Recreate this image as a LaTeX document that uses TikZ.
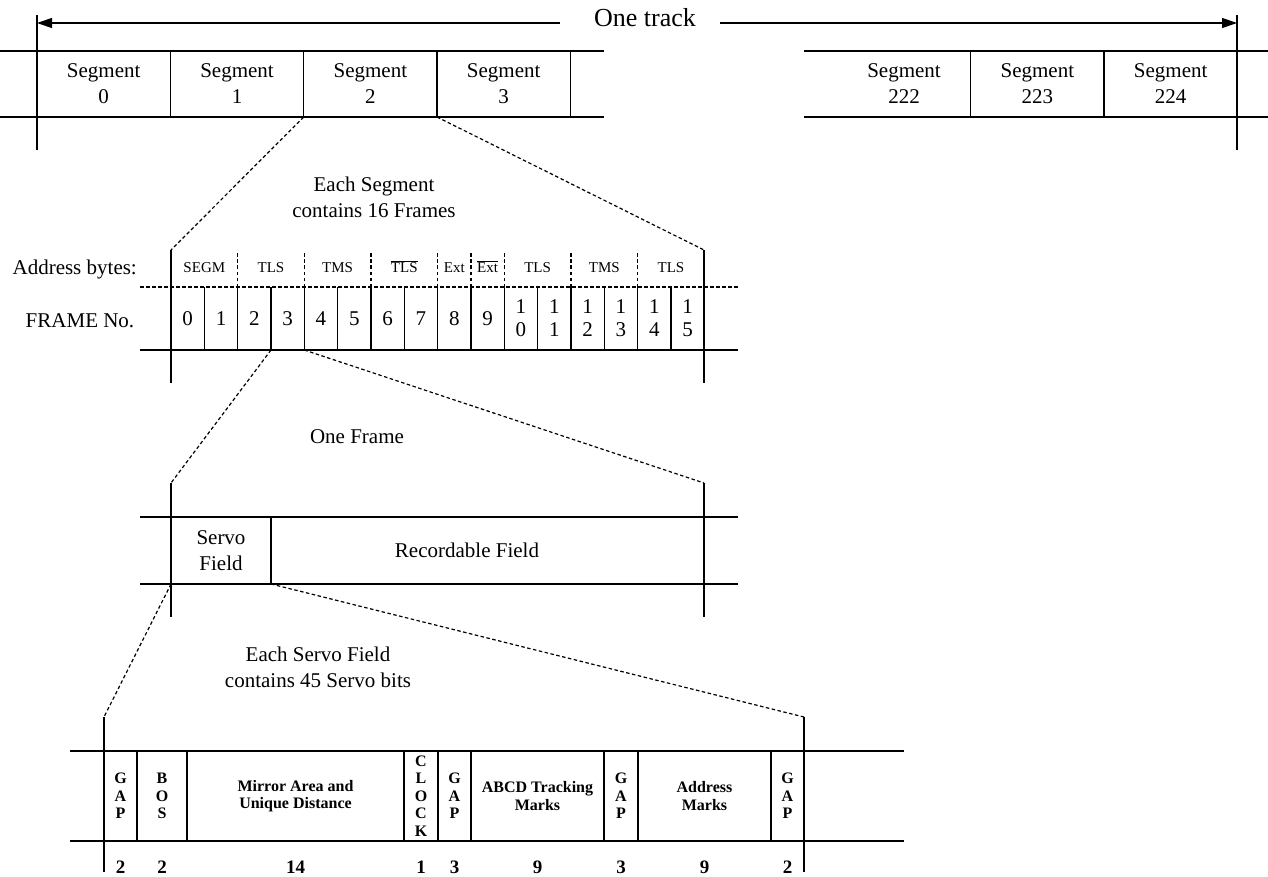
\documentclass[tikz,border=0pt]{standalone}
\usepackage{fontspec}
\setmainfont{Liberation Serif}
\usetikzlibrary{arrows.meta,positioning}
\newcommand{\bigtxt}{\fontsize{21}{26}\selectfont}
\newcommand{\smalltxt}{\fontsize{16}{17.5}\selectfont}
\tikzset{
  segcell/.style={
    minimum width=133.33pt,
    minimum height=66pt,
    inner sep=0pt,
    outer sep=0pt,
    align=center,
    font=\bigtxt
  },
  framecell/.style={
    minimum width=33.33pt,
    minimum height=63pt,
    inner sep=0pt,
    outer sep=0pt,
    align=center,
    font=\fontsize{21}{23}\selectfont
  },
  bytelabel/.style={
    inner sep=0pt,
    font=\fontsize{15}{17}\selectfont
  },
  fieldcell/.style={
    minimum height=67pt,
    inner sep=0pt,
    outer sep=0pt,
    align=center,
    font=\bigtxt
  },
  servocell/.style={
    minimum height=90pt,
    inner sep=0pt,
    outer sep=0pt,
    align=center,
    font=\smalltxt\bfseries
  },
  bitcount/.style={
    inner sep=0pt,
    font=\fontsize{19}{20}\selectfont\bfseries
  },
  caption/.style={
    align=center,
    inner sep=0pt,
    font=\bigtxt
  },
  zoomline/.style={
    dash pattern=on 3.5pt off 2.5pt,
    line width=1.2pt
  },
  trackarrow/.style={
    -{Triangle[length=15pt,width=10pt]},
    line width=1.2pt
  }
}

\begin{document}
\begin{tikzpicture}[x=1pt, y=-1pt, line width=1.2pt, node distance=0pt]
  \useasboundingbox (0,0) rectangle (1268,877);

  % one track
  \node[inner sep=0pt, font=\fontsize{26}{30}\selectfont] (track) at (645,18) {One track};
  \coordinate (trackL) at (37,23);
  \coordinate (trackR) at (1237,23);
  \coordinate (lineL) at (560,23);
  \coordinate (lineR) at (720,23);
  \draw[trackarrow] (lineL) -- (trackL);
  \draw[trackarrow] (lineR) -- (trackR);
  \draw (37,15) -- (37,150);
  \draw (1237,15) -- (1237,150);

  \node[segcell] (s0) at (103.67,84) {Segment\\0};
  \node[segcell, right=of s0] (s1) {Segment\\1};
  \node[segcell, right=of s1] (s2) {Segment\\2};
  \node[segcell, right=of s2] (s3) {Segment\\3};
  \node[segcell] (s222) at (904,84) {Segment\\222};
  \node[segcell, right=of s222] (s223) {Segment\\223};
  \node[segcell, right=of s223] (s224) {Segment\\224};
  \draw (0,51) -- (604,51);
  \draw (0,117) -- (604,117);
  \draw (804,51) -- (1268,51);
  \draw (804,117) -- (1268,117);
  \draw (s0.north east) -- (s0.south east);
  \draw (s1.north east) -- (s1.south east);
  \draw (s2.north east) -- (s2.south east);
  \draw (s3.north east) -- (s3.south east);
  \draw (s222.north east) -- (s222.south east);
  \draw (s223.north east) -- (s223.south east);

  % one segment
  \coordinate (segL) at (171,250);
  \coordinate (segR) at (704,250);
  \draw[zoomline] (s2.south west) -- (segL);
  \draw[zoomline] (s2.south east) -- (segR);
  \node[caption] (segtext) at (374,197) {Each Segment\\contains 16 Frames};

  \node[anchor=base west, inner sep=0pt, font=\bigtxt] (addr) at (12,275) {Address bytes:};
  \node[anchor=base, inner sep=0pt, font=\bigtxt] (frameno) at (80,327) {FRAME No.};

  \node[framecell] (f0) at (187.67,318.5) {0};
  \node[framecell, right=of f0] (f1) {1};
  \node[framecell, right=of f1] (f2) {2};
  \node[framecell, right=of f2] (f3) {3};
  \node[framecell, right=of f3] (f4) {4};
  \node[framecell, right=of f4] (f5) {5};
  \node[framecell, right=of f5] (f6) {6};
  \node[framecell, right=of f6] (f7) {7};
  \node[framecell, right=of f7] (f8) {8};
  \node[framecell, right=of f8] (f9) {9};
  \node[framecell, right=of f9] (f10) {1\\0};
  \node[framecell, right=of f10] (f11) {1\\1};
  \node[framecell, right=of f11] (f12) {1\\2};
  \node[framecell, right=of f12] (f13) {1\\3};
  \node[framecell, right=of f13] (f14) {1\\4};
  \node[framecell, right=of f14] (f15) {1\\5};
  \foreach \i in {0,...,14}
    \draw (f\i.north east) -- (f\i.south east);
  \draw (segL) -- (171,383);
  \draw (segR) -- (704,383);
  \draw[zoomline] (140,287) -- (738,287);
  \draw (140,350) -- (738,350);
  \foreach \i in {1,3,5,7,8,9,11,13}
    \draw[zoomline] (f\i.north east) -- ++(0,-35);

  \node[bytelabel, above=14pt of f0.north east] (b0) {SEGM};
  \node[bytelabel, above=14pt of f2.north east] (b1) {TLS};
  \node[bytelabel, above=14pt of f4.north east] (b2) {TMS};
  \node[bytelabel, above=14pt of f6.north east] (b3) {$\overline{\mbox{TLS}}$};
  \node[bytelabel, above=14pt of f8.north] (b4) {Ext};
  \node[bytelabel, above=14pt of f9.north] (b5) {$\overline{\mbox{Ext}}$};
  \node[bytelabel, above=14pt of f10.north east] (b6) {TLS};
  \node[bytelabel, above=14pt of f12.north east] (b7) {TMS};
  \node[bytelabel, above=14pt of f14.north east] (b8) {TLS};

  % one frame
  \coordinate (frL) at (171,483);
  \coordinate (frR) at (704,483);
  \draw[zoomline] (f3.south west) -- (frL);
  \draw[zoomline] (f3.south east) -- (frR);
  \node[caption] (frametext) at (357,437) {One Frame};

  \node[fieldcell, minimum width=100pt] (servo) at (221,550.5) {Servo\\Field};
  \node[fieldcell] (rec) at (467,550.5) {Recordable Field};
  \draw (frL) -- (171,617);
  \draw (frR) -- (704,617);
  \draw (140,517) -- (738,517);
  \draw (140,584) -- (738,584);
  \draw (servo.north east) -- (servo.south east);

  % servo field
  \coordinate (bitL) at (104,717);
  \coordinate (bitR) at (804,717);
  \draw[zoomline] (servo.south west) -- (bitL);
  \draw[zoomline] (servo.south east) -- (bitR);
  \node[caption] (servotext) at (318,667) {Each Servo Field\\contains 45 Servo bits};

  \node[servocell, minimum width=33pt] (gap1) at (120.5,796) {G\\A\\P};
  \node[servocell, minimum width=50pt, right=of gap1] (bos) {B\\O\\S};
  \node[servocell, minimum width=217pt, right=of bos] (mirror) {Mirror Area and\\Unique Distance};
  \node[servocell, minimum width=34pt, right=of mirror] (clock) {C\\L\\O\\C\\K};
  \node[servocell, minimum width=33pt, right=of clock] (gap2) {G\\A\\P};
  \node[servocell, minimum width=133pt, right=of gap2] (abcd) {ABCD Tracking\\Marks};
  \node[servocell, minimum width=34pt, right=of abcd] (gap3) {G\\A\\P};
  \node[servocell, minimum width=133pt, right=of gap3] (amarks) {Address\\Marks};
  \node[servocell, minimum width=33pt, right=of amarks] (gap4) {G\\A\\P};
  \draw (70,751) -- (904,751);
  \draw (70,841) -- (904,841);
  \draw (bitL) -- (104,872);
  \draw (bitR) -- (804,872);
  \foreach \c in {gap1,bos,mirror,clock,gap2,abcd,gap3,amarks}
    \draw (\c.north east) -- (\c.south east);

  \node[bitcount, below=19pt of gap1.south] (n1) {2};
  \node[bitcount, below=19pt of bos.south] (n2) {2};
  \node[bitcount, below=19pt of mirror.south] (n3) {14};
  \node[bitcount, below=19pt of clock.south] (n4) {1};
  \node[bitcount, below=19pt of gap2.south] (n5) {3};
  \node[bitcount, below=19pt of abcd.south] (n6) {9};
  \node[bitcount, below=19pt of gap3.south] (n7) {3};
  \node[bitcount, below=19pt of amarks.south] (n8) {9};
  \node[bitcount, below=19pt of gap4.south] (n9) {2};
\end{tikzpicture}
\end{document}
